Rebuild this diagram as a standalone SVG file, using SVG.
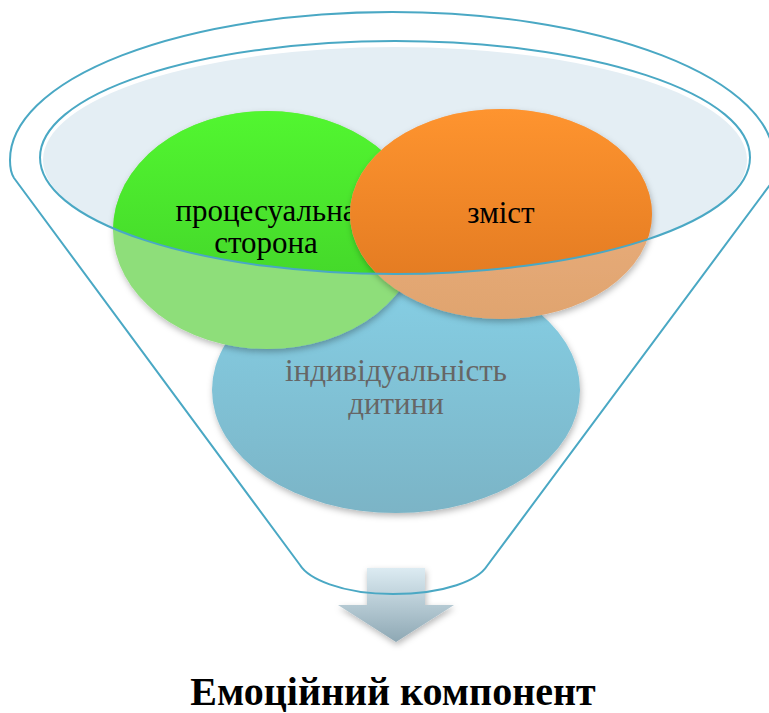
<svg xmlns="http://www.w3.org/2000/svg" width="769" height="713" viewBox="0 0 769 713">
  <style>
    .line { fill: none; stroke: #4aa8c4; stroke-width: 2; }
    .lbl { font-family: "Liberation Serif", "DejaVu Serif", serif; font-size: 31px; text-anchor: middle; }
    .title { font-family: "Liberation Serif", "DejaVu Serif", serif; font-size: 40px; font-weight: bold; text-anchor: middle; fill: #000; }
  </style>
  <defs>
    <linearGradient id="gBlue" x1="0" y1="0" x2="0" y2="1">
      <stop offset="0" stop-color="#86d0e6"/>
      <stop offset="1" stop-color="#7bb4c6"/>
    </linearGradient>
    <linearGradient id="gGreen" x1="0" y1="0" x2="0" y2="1">
      <stop offset="0" stop-color="#52f630"/>
      <stop offset="1" stop-color="#3fcc28"/>
    </linearGradient>
    <linearGradient id="gOrange" x1="0" y1="0" x2="0" y2="1">
      <stop offset="0" stop-color="#fe942f"/>
      <stop offset="1" stop-color="#de761f"/>
    </linearGradient>
    <linearGradient id="gOrangeL" x1="0" y1="0" x2="0" y2="1">
      <stop offset="0" stop-color="#efb485"/>
      <stop offset="1" stop-color="#e0a46f"/>
    </linearGradient>
    <linearGradient id="gArrow" x1="0" y1="0" x2="0" y2="1">
      <stop offset="0" stop-color="#dcebf2"/>
      <stop offset="1" stop-color="#8ea8b4"/>
    </linearGradient>
    <clipPath id="rimClip">
      <ellipse cx="395" cy="157.5" rx="355" ry="116.5"/>
    </clipPath>
    <filter id="shadow" x="-10%" y="-10%" width="120%" height="130%">
      <feDropShadow dx="1" dy="3" stdDeviation="3" flood-color="#000" flood-opacity="0.28"/>
    </filter>
  </defs>

  <g id="rim-fill">
    <ellipse cx="395" cy="160" rx="352" ry="113" fill="#e4eef4"/>
  </g>

  <g id="node-individuality">
    <ellipse cx="396" cy="390" rx="184" ry="123" fill="url(#gBlue)" filter="url(#shadow)"/>
    <text class="lbl" x="396" y="381" fill="#666666">індивідуальність</text>
    <text class="lbl" x="396" y="414" fill="#666666">дитини</text>
  </g>

  <g id="node-procedural">
    <ellipse cx="267" cy="230" rx="154" ry="119" fill="#8ede7a" filter="url(#shadow)"/>
    <ellipse cx="267" cy="230" rx="154" ry="119" fill="url(#gGreen)" clip-path="url(#rimClip)"/>
    <text class="lbl" x="266" y="221" fill="#000">процесуальна</text>
    <text class="lbl" x="266" y="253" fill="#000">сторона</text>
  </g>

  <g id="node-content">
    <ellipse cx="501" cy="214" rx="151" ry="105" fill="url(#gOrangeL)" filter="url(#shadow)"/>
    <ellipse cx="501" cy="214" rx="151" ry="105" fill="url(#gOrange)" clip-path="url(#rimClip)"/>
    <text class="lbl" x="501" y="223" fill="#000">зміст</text>
  </g>

  <g id="arrow">
    <path d="M367,568 L425,568 L425,605 L454,605 L396,642 L338,605 L367,605 Z" fill="url(#gArrow)" filter="url(#shadow)"/>
  </g>

  <g id="connectors">
    <ellipse class="line" cx="395" cy="157.5" rx="355" ry="116.5"/>
    <path class="line" d="M300,565 L14,178 C10,172 10,166 10,160 A382,148 0 0 1 774,160 C774,166 777,172 775,178 L487,566 C478,580 446,594 393,594 C340,594 308,578 300,565 Z"/>
  </g>

  <g id="title">
    <text class="title" x="393" y="705">Емоційний компонент</text>
  </g>
</svg>
